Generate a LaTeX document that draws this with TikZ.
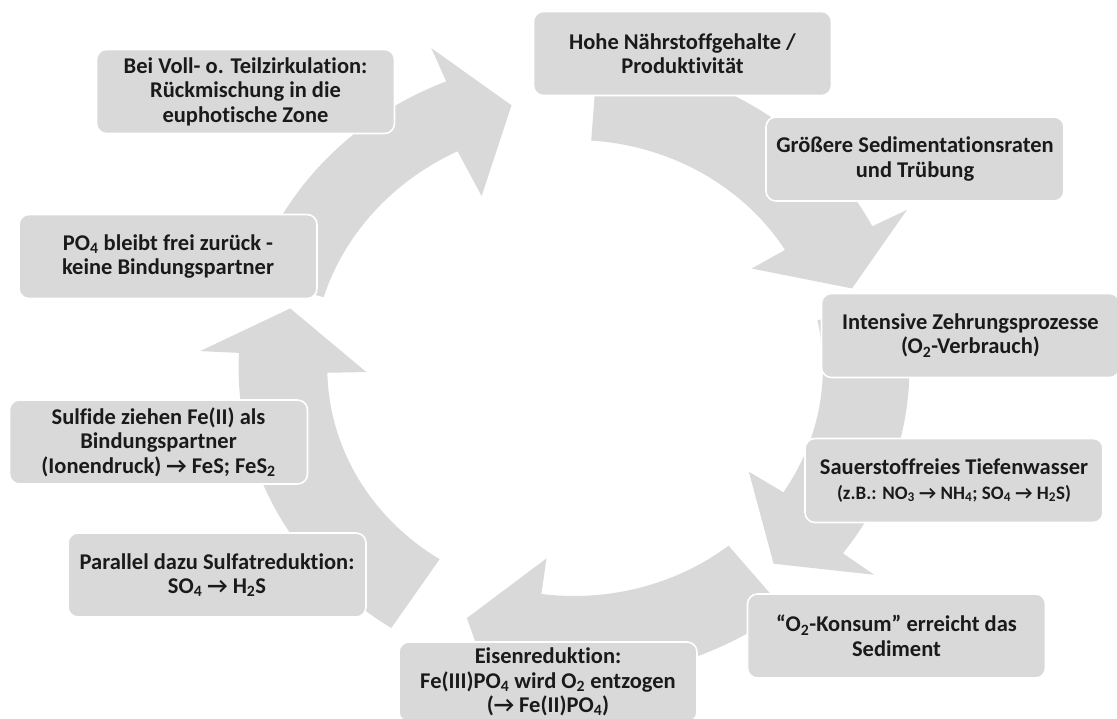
\documentclass[tikz,border=0pt]{standalone}
\usepackage{fontspec}
\setmainfont{Carlito}[Ligatures=NoCommon]
\usepackage{tikz}
\usepackage{xcolor}
\usetikzlibrary{backgrounds}
\definecolor{colBox}{HTML}{D9D9D9}
\definecolor{colRing}{HTML}{D9D9D9}
\definecolor{colText}{HTML}{1A1A1A}
\tikzset{
  % text boxes around the cycle
  cbox/.style={
    draw=white, line width=1.6pt, fill=colBox,
    rounded corners=10pt, align=center, inner sep=3pt,
    minimum width=298pt, minimum height=84pt,
    font=\fontsize{22.5}{24.5}\selectfont\bfseries, text=colText,
  },
  % curved arrows of the ring
  ringarr/.style={fill=colRing, draw=none},
}

\begin{document}
\begin{tikzpicture}[x=1pt, y=-1pt]

\useasboundingbox (0,0) rectangle (1117,719);

%% boxes, clockwise from the top
\node[cbox] (hohe)     at (682.5,53.5) {Hohe Nährstoffgehalte /\\Produktivität};
\node[cbox] (groesser) at (915,159)    {Größere Sedimentationsraten\\und Trübung};
\node[cbox] (zehrung)  at (970.5,335.5) {Intensive Zehrungsprozesse\\(O\textsubscript{2}-Verbrauch)};
\node[cbox] (tiefe)    at (954,480.5)  {Sauerstoffreies Tiefenwasser\\
  {\fontsize{19}{22}\selectfont (z.B.: NO\textsubscript{3} → NH\textsubscript{4}; SO\textsubscript{4} → H\textsubscript{2}S)}};
\node[cbox] (konsum)   at (896.5,636)  {“O\textsubscript{2}-Konsum” erreicht das\\Sediment};
\node[cbox, minimum height=80pt] (eisen) at (548,682)
  {Eisenreduktion:\\Fe(III)PO\textsubscript{4} wird O\textsubscript{2} entzogen\\(→ Fe(II)PO\textsubscript{4})};
\node[cbox] (sulfat)   at (217,575)    {Parallel dazu Sulfatreduktion:\\SO\textsubscript{4} → H\textsubscript{2}S};
\node[cbox] (sulfide)  at (158.5,442)  {Sulfide ziehen Fe(II) als\\Bindungspartner\\(Ionendruck) → FeS; FeS\textsubscript{2}};
\node[cbox] (phosphat) at (168,256.5)  {PO\textsubscript{4} bleibt frei zurück -\\keine Bindungspartner};
\node[cbox] (zirk)     at (245.5,91.5) {Bei Voll- o. Teilzirkulation:\\Rückmischung in die\\euphotische Zone};

%% ring of five arrows behind the boxes
\coordinate (ctr) at (574,368);
\begin{scope}[on background layer, shift={(ctr)}, x=1.082pt, y=1pt]
  % tail / tip / inner radius
  \foreach \tl/\tp/\rin in {163/102.4/242, 86/17.2/228, 12/-46.7/230,
                            -51.2/-111.6/228, 237/167.2/228}
    \fill[ringarr] (\tl:310) arc[start angle=\tl, end angle={\tp+10}, radius=310]
      -- ({\tp+10}:346) -- (\tp:269) -- ({\tp+14}:192) -- ({\tp+14}:\rin)
      arc[start angle={\tp+14}, end angle=\tl, radius=\rin] -- cycle;
\end{scope}

\end{tikzpicture}
\end{document}
